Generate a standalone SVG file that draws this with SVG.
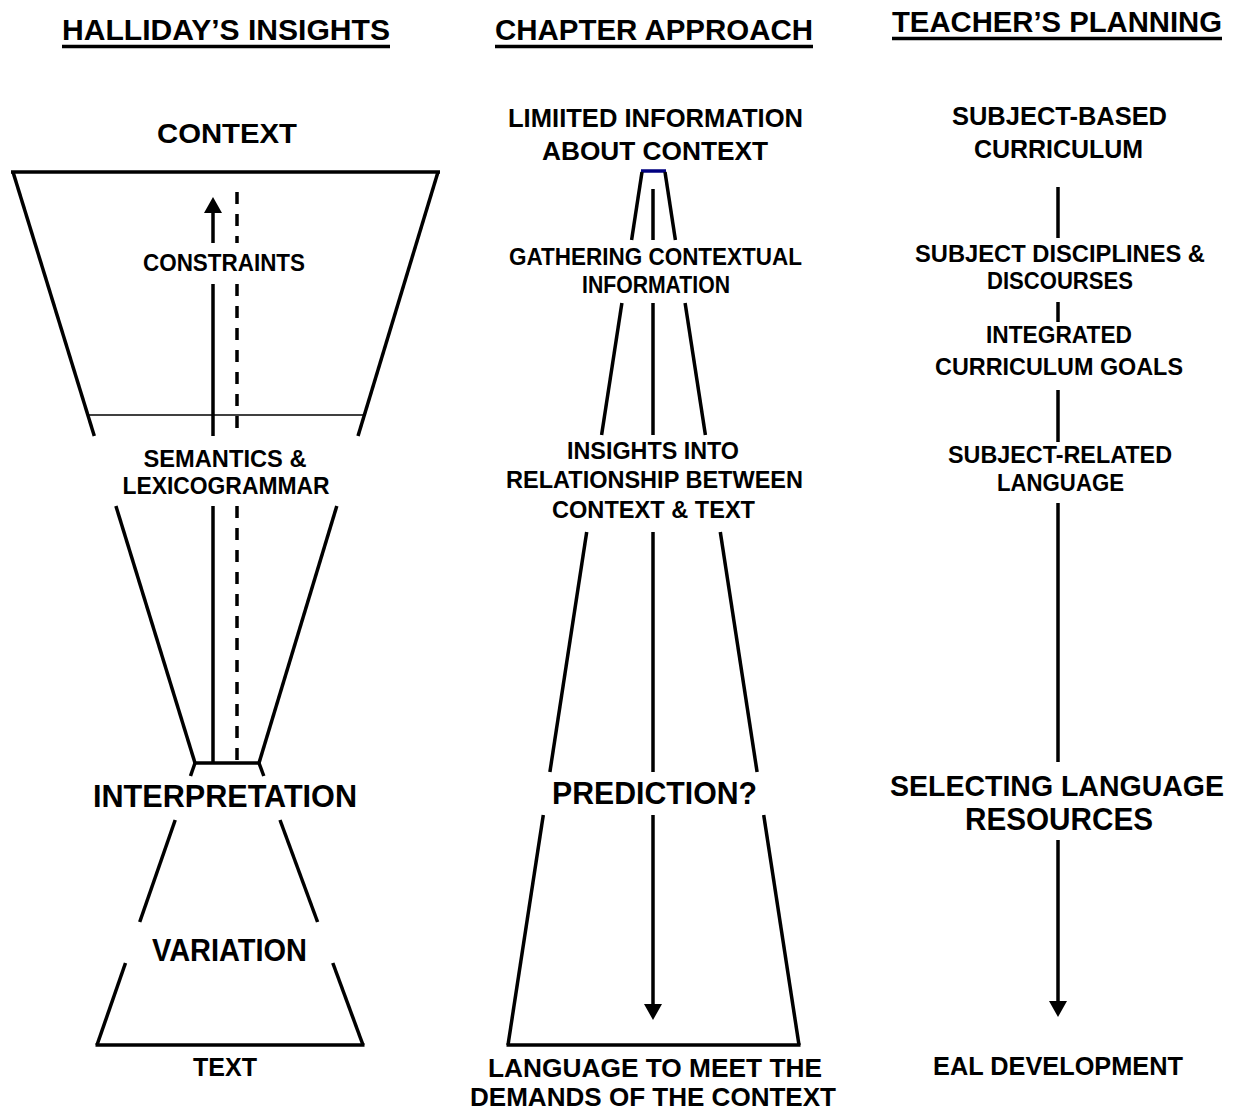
<svg xmlns="http://www.w3.org/2000/svg" width="1235" height="1110" viewBox="0 0 1235 1110">
<style>
text{font-family:'Liberation Sans',Arial,Helvetica,sans-serif;font-weight:bold;fill:#000;text-anchor:middle}
.h{font-size:29px}
.b{font-size:31px}
.m{font-size:26px}
.s{font-size:23px}
.ln{stroke:#000;stroke-width:3.5;fill:none;stroke-linecap:butt}
.thin{stroke:#000;stroke-width:1.5;fill:none}
.dash{stroke:#000;stroke-width:3.5;fill:none;stroke-dasharray:12 10}
.ul{stroke:#000;stroke-width:3.5}
</style>
<defs>
<marker id="ah" markerUnits="userSpaceOnUse" markerWidth="17" markerHeight="18" refX="0" refY="9" orient="auto">
<path d="M0,0 L16,9 L0,18 z" fill="#000"/>
</marker>
</defs>
<rect width="1235" height="1110" fill="#fff"/>

<g id="headers">
<g id="h-halliday"><text class="h" x="226" y="40" textLength="328" lengthAdjust="spacingAndGlyphs">HALLIDAY’S INSIGHTS</text><line class="ul" x1="62" y1="46.5" x2="390" y2="46.5"/></g>
<g id="h-chapter"><text class="h" x="654" y="40" textLength="318" lengthAdjust="spacingAndGlyphs">CHAPTER APPROACH</text><line class="ul" x1="495" y1="46.5" x2="813" y2="46.5"/></g>
<g id="h-teacher"><text class="h" x="1057" y="32" textLength="330" lengthAdjust="spacingAndGlyphs">TEACHER’S PLANNING</text><line class="ul" x1="892" y1="38.5" x2="1222" y2="38.5"/></g>
</g>

<g id="shapes">
<line class="ln" x1="11" y1="172" x2="440" y2="172"/>
<line class="ln" x1="13" y1="172" x2="94.3" y2="436"/>
<line class="ln" x1="115.9" y1="506" x2="195" y2="763"/>
<line class="ln" x1="438" y1="172" x2="358" y2="436"/>
<line class="ln" x1="336.8" y1="506" x2="259" y2="763"/>
<line class="thin" x1="88" y1="415" x2="366" y2="415"/>
<line class="ln" x1="193.5" y1="763" x2="260.5" y2="763"/>
<line class="ln" x1="195" y1="763" x2="190.5" y2="776"/>
<line class="ln" x1="175.2" y1="820" x2="139.7" y2="922"/>
<line class="ln" x1="125.5" y1="963" x2="97" y2="1045"/>
<line class="ln" x1="259" y1="763" x2="263.8" y2="776"/>
<line class="ln" x1="280" y1="820" x2="317.6" y2="922"/>
<line class="ln" x1="332.8" y1="963" x2="363" y2="1045"/>
<line class="ln" x1="95.5" y1="1045" x2="364.5" y2="1045"/>
<line x1="641" y1="171" x2="666" y2="171" stroke="#000080" stroke-width="3.5"/>
<line class="ln" x1="642" y1="172" x2="631.6" y2="240"/>
<line class="ln" x1="621.9" y1="303" x2="601.6" y2="435"/>
<line class="ln" x1="586.7" y1="532" x2="549.9" y2="772"/>
<line class="ln" x1="543.3" y1="815" x2="508" y2="1045"/>
<line class="ln" x1="665" y1="172" x2="675.4" y2="240"/>
<line class="ln" x1="685.1" y1="303" x2="705.4" y2="435"/>
<line class="ln" x1="720.3" y1="532" x2="757.1" y2="772"/>
<line class="ln" x1="763.7" y1="815" x2="799" y2="1045"/>
<line class="ln" x1="506.5" y1="1045" x2="800.5" y2="1045"/>
</g>

<g id="connectors">
<line class="ln" x1="213" y1="243" x2="213" y2="213" marker-end="url(#ah)"/>
<line class="ln" x1="213" y1="284" x2="213" y2="436"/>
<line class="ln" x1="213" y1="506" x2="213" y2="763"/>
<line class="dash" x1="237" y1="192" x2="237" y2="243"/>
<line class="dash" x1="237" y1="284" x2="237" y2="436"/>
<line class="dash" x1="237" y1="506" x2="237" y2="763"/>
<line class="ln" x1="653" y1="189" x2="653" y2="240"/>
<line class="ln" x1="653" y1="303" x2="653" y2="435"/>
<line class="ln" x1="653" y1="532" x2="653" y2="772"/>
<line class="ln" x1="653" y1="815" x2="653" y2="1004" marker-end="url(#ah)"/>
<line class="ln" x1="1058" y1="187" x2="1058" y2="238"/>
<line class="ln" x1="1058" y1="302" x2="1058" y2="322"/>
<line class="ln" x1="1058" y1="390" x2="1058" y2="442"/>
<line class="ln" x1="1058" y1="503" x2="1058" y2="762"/>
<line class="ln" x1="1058" y1="840" x2="1058" y2="1001" marker-end="url(#ah)"/>
</g>

<g id="n-context"><text x="227" y="143" textLength="140" lengthAdjust="spacingAndGlyphs" style="font-size:28px">CONTEXT</text></g>
<g id="n-constraints"><text class="s" x="224" y="271" textLength="162" lengthAdjust="spacingAndGlyphs">CONSTRAINTS</text></g>
<g id="n-semantics"><text class="s" x="225" y="467" textLength="163" lengthAdjust="spacingAndGlyphs">SEMANTICS  &amp;</text><text class="s" x="226" y="494" textLength="207" lengthAdjust="spacingAndGlyphs">LEXICOGRAMMAR</text></g>
<g id="n-interpretation"><text class="b" x="225" y="807" textLength="264" lengthAdjust="spacingAndGlyphs">INTERPRETATION</text></g>
<g id="n-variation"><text class="b" x="229.5" y="961" textLength="155" lengthAdjust="spacingAndGlyphs">VARIATION</text></g>
<g id="n-text"><text class="m" x="225" y="1076" textLength="64" lengthAdjust="spacingAndGlyphs">TEXT</text></g>

<g id="n-limited"><text class="m" x="655.5" y="127" textLength="295" lengthAdjust="spacingAndGlyphs">LIMIITED INFORMATION</text><text class="m" x="655" y="160" textLength="226" lengthAdjust="spacingAndGlyphs">ABOUT  CONTEXT</text></g>
<g id="n-gathering"><text class="s" x="655.5" y="265" textLength="293" lengthAdjust="spacingAndGlyphs">GATHERING  CONTEXTUAL</text><text class="s" x="656" y="293" textLength="148" lengthAdjust="spacingAndGlyphs">INFORMATION</text></g>
<g id="n-insights"><text class="s" x="653" y="459" textLength="172" lengthAdjust="spacingAndGlyphs">INSIGHTS  INTO</text><text class="s" x="654.5" y="488" textLength="297" lengthAdjust="spacingAndGlyphs">RELATIONSHIP   BETWEEN</text><text class="s" x="653.5" y="518" textLength="203" lengthAdjust="spacingAndGlyphs">CONTEXT  &amp; TEXT</text></g>
<g id="n-prediction"><text class="b" x="654.5" y="804" textLength="205" lengthAdjust="spacingAndGlyphs">PREDICTION?</text></g>
<g id="n-language"><text class="m" x="655" y="1077" textLength="334" lengthAdjust="spacingAndGlyphs">LANGUAGE  TO MEET  THE</text><text class="m" x="653" y="1106" textLength="366" lengthAdjust="spacingAndGlyphs">DEMANDS  OF THE  CONTEXT</text></g>

<g id="n-subject-based"><text class="m" x="1059.5" y="125" textLength="215" lengthAdjust="spacingAndGlyphs">SUBJECT-BASED</text><text class="m" x="1058.5" y="158" textLength="169" lengthAdjust="spacingAndGlyphs">CURRICULUM</text></g>
<g id="n-disciplines"><text class="s" x="1060" y="262" textLength="290" lengthAdjust="spacingAndGlyphs">SUBJECT  DISCIPLINES   &amp;</text><text class="s" x="1060" y="289" textLength="146" lengthAdjust="spacingAndGlyphs">DISCOURSES</text></g>
<g id="n-integrated"><text class="s" x="1059" y="343" textLength="146" lengthAdjust="spacingAndGlyphs">INTEGRATED</text><text class="s" x="1059" y="375" textLength="248" lengthAdjust="spacingAndGlyphs">CURRICULUM   GOALS</text></g>
<g id="n-subject-related"><text class="s" x="1060" y="463" textLength="224" lengthAdjust="spacingAndGlyphs">SUBJECT-RELATED</text><text class="s" x="1060.5" y="491" textLength="127" lengthAdjust="spacingAndGlyphs">LANGUAGE</text></g>
<g id="n-selecting"><text class="b" x="1057" y="796" textLength="334" lengthAdjust="spacingAndGlyphs" style="font-size:29.5px">SELECTING LANGUAGE</text><text class="b" x="1059" y="830" textLength="188" lengthAdjust="spacingAndGlyphs">RESOURCES</text></g>
<g id="n-eal"><text class="m" x="1058" y="1075" textLength="250" lengthAdjust="spacingAndGlyphs">EAL DEVELOPMENT</text></g>
</svg>
